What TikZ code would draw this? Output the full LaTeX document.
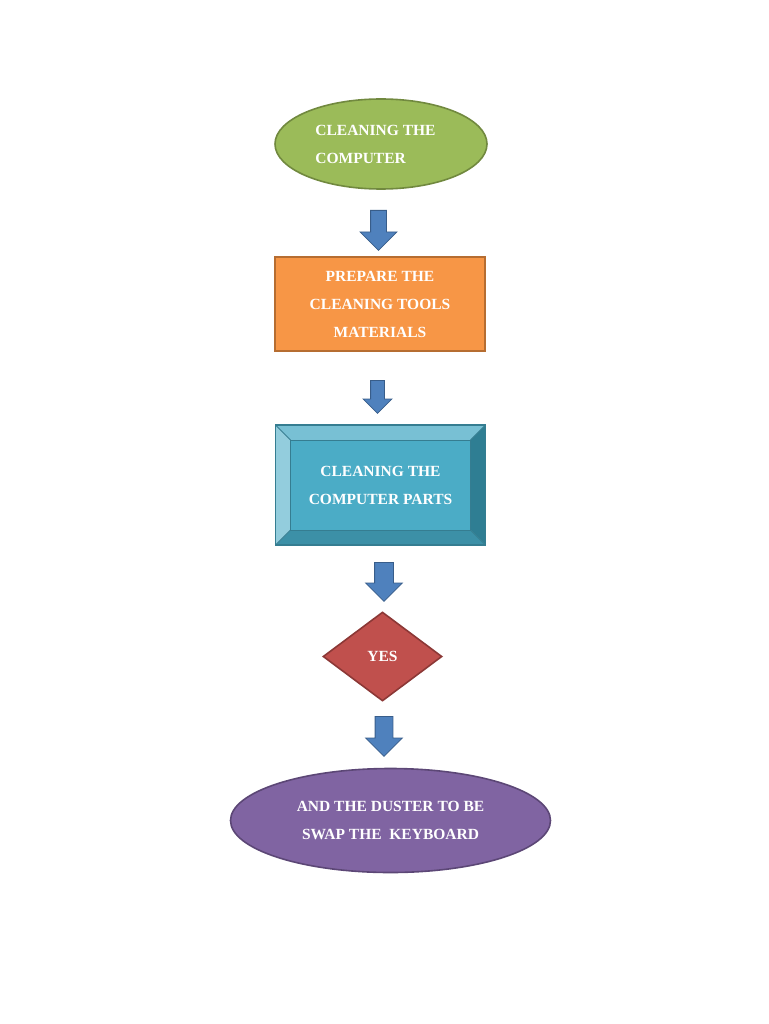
\documentclass[tikz,border=0pt]{standalone}
\usepackage{fontspec}
\setmainfont{Liberation Serif}
\usetikzlibrary{calc, shapes.geometric, shapes.arrows}

\definecolor{leafgreen}{HTML}{9BBB59}
\definecolor{leafedge}{HTML}{71893F}
\definecolor{toolorange}{HTML}{F79646}
\definecolor{tooledge}{HTML}{B66D31}
\definecolor{partsblue}{HTML}{4BACC6}
\definecolor{partsedge}{HTML}{357D91}
\definecolor{bevtop}{HTML}{78C0D4}
\definecolor{bevleft}{HTML}{93CDDD}
\definecolor{bevright}{HTML}{2F7E93}
\definecolor{bevbottom}{HTML}{3C90A7}
\definecolor{yesred}{HTML}{C0504D}
\definecolor{yesedge}{HTML}{8C3836}
\definecolor{dusterviolet}{HTML}{8064A2}
\definecolor{dusteredge}{HTML}{5C4776}
\definecolor{arrowblue}{HTML}{4F81BD}
\definecolor{arrowedge}{HTML}{385D8A}

\tikzset{
  steplabel/.style={text=white, font=\fontsize{15.5}{28}\selectfont\bfseries, align=center},
  blockarrow/.style={single arrow, rotate=-90, anchor=tail, fill=arrowblue, draw=arrowedge, line width=0.8pt,
    inner xsep=0pt, inner ysep=7.5pt, single arrow head extend=10.5pt,
    single arrow tip angle=90, single arrow head indent=0pt}
}

\begin{document}
\begin{tikzpicture}[x=1pt, y=-1pt]
    \useasboundingbox (0,0) rectangle (768,1024);

    \coordinate (S) at (381,144);
    \coordinate (T) at (380,304);
    \coordinate (P) at (380.5,485);
    \coordinate (Y) at (382.5,656.5);
    \coordinate (K) at (390.5,820.5);

    \node[ellipse, fill=leafgreen, draw=leafedge, line width=1.6pt, minimum width=212, minimum height=90,
      steplabel, align=left] (start) at (S) {CLEANING THE\hspace*{11pt}\\COMPUTER};

    \node[rectangle, fill=toolorange, draw=tooledge, line width=1.6pt, minimum width=210, minimum height=94,
      steplabel] (tools) at (T) {PREPARE THE\\CLEANING TOOLS\\MATERIALS};

    % bevelled box
    \coordinate (PA) at ($ (P) + (-105,-60) $);
    \coordinate (PB) at ($ (P) + (105,-60) $);
    \coordinate (PC) at ($ (P) + (105,60) $);
    \coordinate (PD) at ($ (P) + (-105,60) $);
    \coordinate (pa) at ($ (P) + (-90,-45) $);
    \coordinate (pb) at ($ (P) + (90,-45) $);
    \coordinate (pc) at ($ (P) + (90,45) $);
    \coordinate (pd) at ($ (P) + (-90,45) $);
    \fill[bevtop] (PA) -- (PB) -- (pb) -- (pa) -- cycle;
    \fill[bevright] (PB) -- (PC) -- (pc) -- (pb) -- cycle;
    \fill[bevbottom] (PC) -- (PD) -- (pd) -- (pc) -- cycle;
    \fill[bevleft] (PD) -- (PA) -- (pa) -- (pd) -- cycle;
    \node[rectangle, fill=partsblue, minimum width=180, minimum height=90, steplabel] (parts) at (P)
      {CLEANING THE\\COMPUTER PARTS};
    \draw[partsedge, line width=1pt] (PA) -- (pa) (PB) -- (pb) (PC) -- (pc) (PD) -- (pd);
    \draw[partsedge, line width=1pt] (pa) rectangle (pc);
    \draw[partsedge, line width=1.6pt] (PA) rectangle (PC);

    \node[diamond, fill=yesred, draw=yesedge, line width=1.6pt, minimum width=119, minimum height=89,
      inner sep=0pt, aspect=1.34, steplabel] (yes) at (Y) {YES};

    \node[ellipse, fill=dusterviolet, draw=dusteredge, line width=1.6pt, minimum width=320, minimum height=104,
      steplabel] (duster) at (K) {AND THE DUSTER TO BE\\SWAP THE\ \ KEYBOARD};

    \node[blockarrow, minimum height=40] (a1) at (378.5,210) {};
    \node[blockarrow, minimum height=33, inner ysep=6.5pt, single arrow head extend=7.5pt] (a2) at (377.5,380) {};
    \node[blockarrow, minimum height=39, inner ysep=9pt, single arrow head extend=9pt] (a3) at (384,562) {};
    \node[blockarrow, minimum height=40, inner ysep=8.5pt, single arrow head extend=9.5pt] (a4) at (384,716) {};

  \end{tikzpicture}
\end{document}
